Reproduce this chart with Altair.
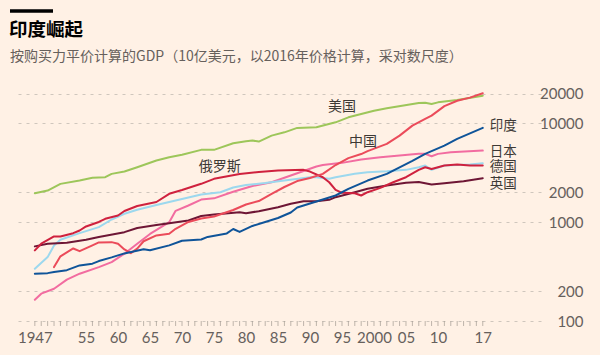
import altair as alt
import pandas as pd

# ---- data (GDP, PPP, bn 2016 $) ----
us_years = [1947, 1949, 1951, 1954, 1956, 1958, 1959, 1961, 1963, 1966, 1968, 1970, 1973, 1975, 1978,
            1980, 1981, 1982, 1984, 1986, 1988, 1991, 1994, 1996, 2000, 2002, 2007, 2008, 2009, 2010,
            2013, 2017]
us_vals = [1960, 2090, 2440, 2640, 2810, 2850, 3080, 3250, 3590, 4200, 4540, 4800, 5390, 5390, 6280,
           6580, 6690, 6540, 7510, 8110, 8990, 9120, 10240, 11500, 13430, 14180, 16080, 16190, 15700,
           16300, 17220, 19050]

cn_years = [1950, 1951, 1953, 1954, 1956, 1957, 1959, 1960, 1961, 1962, 1963, 1964, 1966, 1968, 1969,
            1971, 1973, 1975, 1978, 1980, 1982, 1984, 1986, 1988, 1990, 1992, 1994, 1996, 1998, 1999,
            2002, 2004, 2006, 2008, 2009, 2011, 2013, 2015, 2017]
cn_vals = [351, 451, 542, 509, 582, 624, 628, 605, 530, 486, 540, 641, 734, 764, 857,
           1005, 1089, 1142, 1328, 1510, 1637, 1936, 2269, 2606, 2794, 3083, 3784, 4446, 4887, 5240,
           6194, 7510, 9480, 11070, 11970, 14920, 16940, 18200, 20180]

in_years = [1947, 1949, 1950, 1952, 1954, 1956, 1957, 1959, 1961, 1964, 1965, 1968, 1970, 1973, 1974,
            1977, 1978, 1979, 1981, 1983, 1985, 1987, 1988, 1991, 1994, 1996, 1999, 2002, 2006, 2008,
            2011, 2013, 2017]
in_vals = [301, 305, 313, 327, 365, 380, 404, 440, 483, 532, 520, 582, 649, 668, 709,
           769, 853, 796, 916, 1005, 1102, 1253, 1406, 1618, 1861, 2175, 2637, 3083, 4169, 4909,
           5957, 6950, 8990]

jp_years = [1947, 1948, 1950, 1952, 1954, 1957, 1959, 1961, 1963, 1965, 1968, 1969, 1971, 1973, 1975,
            1978, 1981, 1984, 1987, 1989, 1991, 1992, 1995, 1998, 2001, 2004, 2007, 2008, 2009, 2010,
            2012, 2017]
jp_vals = [164, 189, 212, 262, 301, 351, 394, 480, 605, 760, 1000, 1303, 1475, 1694, 1742,
           2032, 2323, 2535, 2965, 3289, 3654, 3784, 3981, 4297, 4536, 4720, 4909, 4909, 4642, 4909,
           5093, 5300]

de_years = [1947, 1949, 1950, 1951, 1954, 1957, 1959, 1961, 1963, 1966, 1969, 1971, 1973, 1976, 1978,
            1980, 1983, 1986, 1990, 1991, 1993, 1994, 1997, 1999, 2002, 2005, 2007, 2008, 2009, 2011,
            2015, 2017]
de_vals = [338, 443, 582, 664, 774, 890, 1064, 1216, 1334, 1492, 1656, 1775, 1905, 2009, 2244,
           2377, 2489, 2637, 2850, 2850, 2744, 2850, 3083, 3199, 3273, 3382, 3594, 3740, 3382, 3740,
           3828, 3945]

uk_years = [1947, 1949, 1952, 1955, 1957, 1961, 1963, 1966, 1968, 1971, 1973, 1975, 1979, 1980, 1982,
            1985, 1987, 1989, 1991, 1993, 1994, 1997, 1999, 2002, 2005, 2007, 2009, 2011, 2014, 2017]
uk_vals = [569, 605, 619, 664, 709, 792, 874, 937, 977, 1040, 1156, 1196, 1262, 1233, 1291,
           1418, 1535, 1629, 1629, 1683, 1789, 2009, 2175, 2350, 2500, 2547, 2404, 2477, 2594, 2780]

ru_years = [1947, 1948, 1950, 1951, 1953, 1954, 1955, 1957, 1958, 1960, 1961, 1963, 1966, 1968, 1970,
            1973, 1975, 1979, 1982, 1985, 1989, 1990, 1992, 1993, 1994, 1995, 1997, 1998, 1999, 2001,
            2003, 2005, 2007, 2008, 2009, 2011, 2013, 2015, 2017]
ru_vals = [518, 605, 717, 717, 774, 824, 905, 1005, 1082, 1169, 1297, 1458, 1600, 1936, 2115,
           2443, 2744, 3068, 3214, 3327, 3382, 3252, 2850, 2535, 2124, 1982, 1963, 1861, 2009, 2225,
           2535, 2850, 3382, 3594, 3446, 3740, 3828, 3740, 3740]

countries = ["美国", "日本", "德国", "英国", "俄罗斯", "中国", "印度"]
colors = ["#9DC65A", "#F26CA0", "#9CD8EE", "#6E1635", "#CF213E", "#EB4B5A", "#0F5499"]

inline_labels = ["美国", "中国", "俄罗斯"]
inline_years = [1995.0, 1998.3, 1975.9]
inline_values = [14750, 6535, 3654]

end_labels = ["印度", "日本", "德国", "英国"]
end_years = [2018.1, 2018.1, 2018.1, 2018.1]
end_values = [9480, 5180, 3610, 2432]

y_ticks = [100, 200, 1000, 2000, 10000, 20000]
x_tick_years = list(range(1947, 2018))
x_label_years = [1947, 1955, 1960, 1965, 1970, 1975, 1980, 1985, 1990, 1995, 2000, 2005, 2010, 2017]
x_label_texts = ["1947", "55", "60", "65", "70", "75", "80", "85", "90", "95", "2000", "05", "10", "17"]
y_base = 100

TITLE = "印度崛起"
SUBTITLE = "按购买力平价计算的GDP（10亿美元，以2016年价格计算，采对数尺度）"

# ---- build tables ----
series = {
    "美国": (us_years, us_vals), "中国": (cn_years, cn_vals), "印度": (in_years, in_vals),
    "日本": (jp_years, jp_vals), "德国": (de_years, de_vals), "英国": (uk_years, uk_vals),
    "俄罗斯": (ru_years, ru_vals),
}
rows = []
for c in countries:
    ys, vs = series[c]
    for yr, v in zip(ys, vs):
        rows.append({"country": c, "year": yr, "value": v})
df = pd.DataFrame(rows)

inline_df = pd.DataFrame({"label": inline_labels, "year": inline_years, "value": inline_values})
end_df = pd.DataFrame({"label": end_labels, "year": end_years, "value": end_values})
ticks_df = pd.DataFrame({"year": x_tick_years, "value": [y_base] * len(x_tick_years)})

label_expr = ""
for yv, t in zip(x_label_years, x_label_texts):
    label_expr += f"datum.value == {yv} ? '{t}' : "
label_expr += "''"

BG = "#FFF1E5"
GRID = "#CFC6BD"
LAB = "#66605C"
CJK = "Noto Sans CJK SC"
W, H = 526, 237

xs = alt.Scale(domain=[1943.9, 2026.1], nice=False, zero=False)
ys_ = alt.Scale(type="log", domain=[100, 25000], nice=False)

label_axis = alt.Axis(
    orient="bottom", values=x_label_years, labelExpr=label_expr, grid=False, domain=False,
    ticks=False, labelFont="Lato", labelFontSize=15, labelColor=LAB, labelPadding=21,
    labelBaseline="alphabetic", labelOverlap=False, labelFlush=False, labelBound=False,
    title=None)

y_axis = alt.Axis(
    orient="right", values=y_ticks, format="d", grid=True, gridDash=[3, 5], gridColor=GRID,
    gridWidth=1, domain=False, ticks=False, labelAlign="right", labelPadding=42,
    labelBaseline="middle", labelFont="Lato", labelFontSize=15, labelColor=LAB, title=None)

lines = alt.Chart(df).mark_line(strokeWidth=2, strokeJoin="round", strokeCap="round").encode(
    x=alt.X("year:Q", scale=xs, axis=label_axis),
    y=alt.Y("value:Q", scale=ys_, axis=y_axis),
    color=alt.Color("country:N", scale=alt.Scale(domain=countries, range=colors), legend=None),
    order=alt.Order("year:Q"),
)

year_ticks = alt.Chart(ticks_df).mark_tick(
    color="#A39A92", thickness=1, size=5, orient="vertical", yOffset=2.5
).encode(
    x=alt.X("year:Q", scale=xs),
    y=alt.Y("value:Q", scale=ys_),
)

inline_text = alt.Chart(inline_df).mark_text(
    font=CJK, fontSize=14, color="#3D3935", align="center", baseline="middle"
).encode(x=alt.X("year:Q", scale=xs), y=alt.Y("value:Q", scale=ys_), text="label:N")

end_text = alt.Chart(end_df).mark_text(
    font=CJK, fontSize=13.5, color="#3D3935", align="left", baseline="middle"
).encode(x=alt.X("year:Q", scale=xs), y=alt.Y("value:Q", scale=ys_), text="label:N")

one = pd.DataFrame({"a": [0]})
bar = alt.Chart(one).mark_rule(color="#000000", strokeWidth=3.5).encode(
    x=alt.value(-5), x2=alt.value(38), y=alt.value(-73))
title_t = alt.Chart(one).mark_text(
    text=TITLE, font=CJK, fontSize=18.5, fontWeight="bold", color="#000000",
    align="left", baseline="alphabetic").encode(x=alt.value(-6), y=alt.value(-48))
subtitle_t = alt.Chart(one).mark_text(
    text=SUBTITLE, font=CJK, fontSize=14, color=LAB,
    align="left", baseline="alphabetic").encode(x=alt.value(-5), y=alt.value(-23.5))

chart = alt.layer(lines, year_ticks, inline_text, end_text, bar, title_t, subtitle_t).properties(
    width=W, height=H,
    autosize=alt.AutoSizeParams(type="none"),
    padding={"left": 15, "top": 84, "right": 59, "bottom": 34},
    background=BG,
).configure_view(stroke=None)

chart.save("out.html", embed_options={"renderer": "svg", "actions": False})
